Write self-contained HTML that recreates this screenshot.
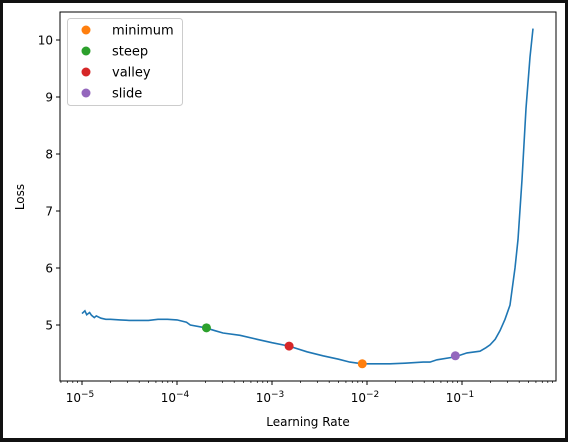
<!DOCTYPE html>
<html><head><meta charset="utf-8"><style>
html,body{margin:0;padding:0;background:#111;}
#wrap{position:absolute;left:3px;top:3px;width:562px;height:435px;background:#fff;}
svg{position:absolute;left:0;top:0;}
text{font-family:"DejaVu Sans","Liberation Sans",sans-serif;fill:#000;}
</style></head><body>
<div id="wrap"></div>
<svg id="chart" width="568" height="442"></svg>
<script>
const lrLog = [-5,-4.97,-4.95,-4.92,-4.9,-4.87,-4.85,-4.8,-4.75,-4.7,-4.6,-4.5,-4.4,-4.3,-4.2,-4.1,-4,-3.9,-3.86,-3.7,-3.6,-3.516,-3.337,-3.158,-3.0,-2.82,-2.632,-2.463,-2.3,-2.18,-2.05,-1.9,-1.758,-1.6,-1.41,-1.337,-1.263,-1.074,-0.947,-0.81,-0.75,-0.705,-0.65,-0.6,-0.547,-0.495,-0.442,-0.41,-0.368,-0.326,-0.284,-0.253];
const loss = [5.2,5.25,5.18,5.22,5.17,5.13,5.16,5.12,5.1,5.1,5.09,5.08,5.08,5.08,5.1,5.1,5.09,5.05,5.0,4.95,4.9,4.86,4.82,4.75,4.69,4.63,4.53,4.46,4.4,4.35,4.32,4.32,4.32,4.33,4.35,4.35,4.39,4.44,4.51,4.54,4.6,4.65,4.75,4.9,5.1,5.35,6.0,6.5,7.55,8.8,9.7,10.2];
const markerNames = ["minimum","steep","valley","slide"];
const markerColors = ["#ff7f0e","#2ca02c","#d62728","#9467bd"];
const markerX = [-2.05,-3.69,-2.82,-1.07];
const markerY = [4.32,4.95,4.63,4.46];
const xTicks = [-5,-4,-3,-2,-1];
const yTicks = [5,6,7,8,9,10];
const NS="http://www.w3.org/2000/svg";
const svg=document.getElementById('chart');
const L=60,R=556,T=12,B=381;
const xs=v=>82+(v+5)*95;
const ys=v=>382-(v-4)*57;
function mk(tag,attrs,parent){const e=document.createElementNS(NS,tag);for(const k in attrs)e.setAttribute(k,attrs[k]);(parent||svg).appendChild(e);return e;}
let d=lrLog.map((v,i)=>(i?'L':'M')+xs(v).toFixed(1)+','+ys(loss[i]).toFixed(1)).join('');
const line=mk('path',{d:d,fill:'none',stroke:'#1f77b4','stroke-width':1.6});


markerX.forEach((v,i)=>{const c=mk('circle',{cx:xs(v),cy:ys(markerY[i]),r:4.5,fill:markerColors[i]});

});
const fr=mk('rect',{x:L,y:T,width:R-L,height:B-T,fill:'none',stroke:'#000','stroke-width':1});


xTicks.forEach(t=>{const x=xs(t);mk('line',{x1:x,x2:x,y1:B,y2:B+4,stroke:'#000'});
const tx=mk('text',{x:x-2,y:B+21,'font-size':12,'text-anchor':'middle'});tx.textContent='10';
const sp=mk('tspan',{dy:-5,'font-size':9},tx);sp.textContent='−'+(-t);


for(let k=2;k<10;k++){const mx=xs(t+Math.log10(k));if(mx<R)mk('line',{x1:mx,x2:mx,y1:B,y2:B+2,stroke:'#000','stroke-width':0.7});}
});
for(let k=6;k<10;k++){const mx=xs(-6+Math.log10(k));if(mx>L)mk('line',{x1:mx,x2:mx,y1:B,y2:B+2,stroke:'#000','stroke-width':0.7});}
yTicks.forEach(t=>{const y=ys(t);mk('line',{x1:L-4,x2:L,y1:y,y2:y,stroke:'#000'});
const tx=mk('text',{x:L-7,y:y+4.5,'font-size':12,'text-anchor':'end'});tx.textContent=t;

});
const xl=mk('text',{x:308,y:426,'font-size':12,'text-anchor':'middle'});xl.textContent='Learning Rate';


const yl=mk('text',{x:24,y:197,'font-size':12,'text-anchor':'middle',transform:'rotate(-90 24 197)'});yl.textContent='Loss';


const lg=mk('g',{});


mk('rect',{x:67.5,y:18.5,width:115,height:87,rx:3,fill:'#fff',stroke:'#ccc'},lg);
markerNames.forEach((n,i)=>{const y=30+i*21;
const g=mk('g',{},lg);


mk('circle',{cx:86,cy:y,r:4.5,fill:markerColors[i]},g);
const t=mk('text',{x:112,y:y+4.5,'font-size':13},g);t.textContent=n;});
</script>
</body></html>
